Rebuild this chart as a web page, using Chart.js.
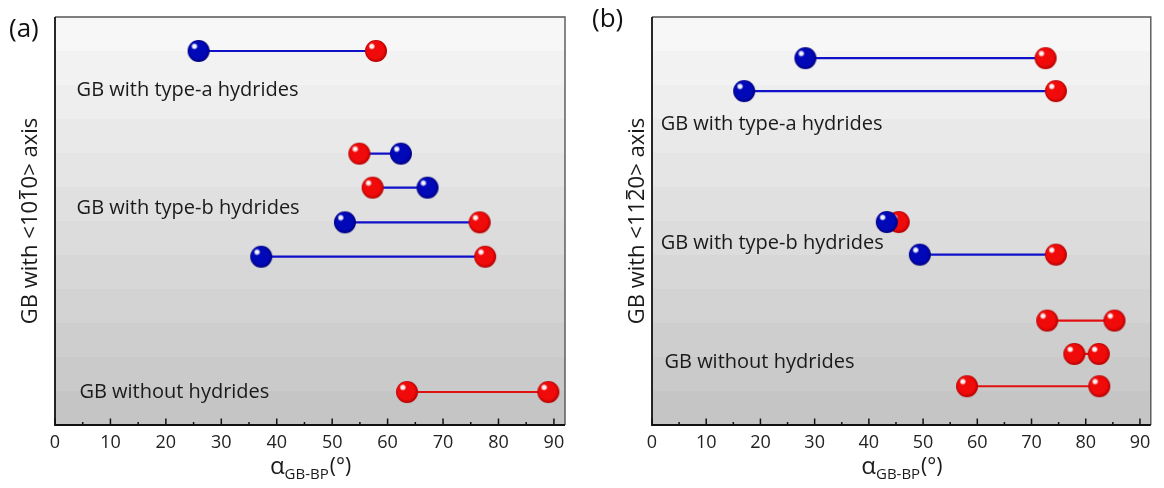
<!DOCTYPE html>
<html>
<head>
<meta charset="utf-8">
<script src="https://cdn.jsdelivr.net/npm/chart.js@4.4.1/dist/chart.umd.min.js"></script>
<style>
  html, body { margin: 0; padding: 0; background: #fff; }
  #wrap { position: relative; width: 1164px; height: 488px; }
  canvas { position: absolute; top: 0; }
  #ca { left: 0; }
  #cb { left: 582px; }
</style>
</head>
<body>
<div id="wrap">
  <canvas id="ca" width="582" height="488"></canvas>
  <canvas id="cb" width="582" height="488"></canvas>
</div>
<script>
// ---- panel (a): GB with <10-10> axis ----
const aRowPos    = [1, 4.02, 5.02, 6.04, 7.05, 11.03];
const aStart     = [25.9, 54.9, 57.3, 52.3, 37.2, 63.5];
const aEnd       = [57.9, 62.4, 67.2, 76.6, 77.6, 89.0];
const aStartKind = ['b', 'r', 'r', 'b', 'b', 'r'];
const aEndKind   = ['r', 'b', 'b', 'r', 'r', 'r'];

// ---- panel (b): GB with <11-20> axis ----
const bRowPos    = [1.21, 2.18, 6.03, 6.99, 8.93, 9.91, 10.86];
const bStart     = [28.3, 17.0, 43.3, 49.4, 72.9, 77.9, 58.1];
const bEnd       = [72.6, 74.5, 45.5, 74.5, 85.3, 82.4, 82.5];
const bStartKind = ['b', 'b', 'b', 'b', 'r', 'r', 'r'];
const bEndKind   = ['r', 'r', 'r', 'r', 'r', 'r', 'r'];

const groupLabels = ['GB with type-a hydrides', 'GB with type-b hydrides', 'GB without hydrides'];
const xTicks = [0, 10, 20, 30, 40, 50, 60, 70, 80, 90];

const FONT = "'Open Sans', 'DejaVu Sans', sans-serif";
const COLORS = { b: '#0000b8', r: '#e80000' };
const LINE = { b: '#1010c8', r: '#e01010' };

// glossy ball used as point style
function makeBall(base, dark, r) {
  const c = document.createElement('canvas');
  c.width = c.height = 2 * r + 2;
  const g = c.getContext('2d');
  const cx = r + 1, cy = r + 1;
  const grd = g.createRadialGradient(cx - r * 0.3, cy - r * 0.35, r * 0.1, cx, cy, r);
  grd.addColorStop(0, base);
  grd.addColorStop(0.75, base);
  grd.addColorStop(1, dark);
  g.fillStyle = grd;
  g.beginPath(); g.arc(cx, cy, r, 0, Math.PI * 2); g.fill();
  const hx = cx - r * 0.38, hy = cy - r * 0.42;
  const hl = g.createRadialGradient(hx, hy, 0, hx, hy, r * 0.32);
  hl.addColorStop(0, 'rgba(255,255,255,1)');
  hl.addColorStop(0.5, 'rgba(255,255,255,0.9)');
  hl.addColorStop(1, 'rgba(255,255,255,0)');
  g.fillStyle = hl;
  g.beginPath(); g.arc(hx, hy, r * 0.32, 0, Math.PI * 2); g.fill();
  return c;
}
const BALL = { b: makeBall('#0008b8', '#00007a', 11), r: makeBall('#f00a0a', '#b00000', 11) };

function buildDatasets(rows, starts, ends, sKind, eKind) {
  return rows.map((y, i) => {
    let pts = [{ x: starts[i], y, k: sKind[i] }, { x: ends[i], y, k: eKind[i] }];
    // red balls first so blue ones sit on top where they overlap
    pts.sort((p, q) => (p.k === 'b') - (q.k === 'b'));
    const lineKind = (sKind[i] === 'b' || eKind[i] === 'b') ? 'b' : 'r';
    return {
      data: pts.map(p => ({ x: p.x, y: p.y })),
      showLine: true,
      borderColor: LINE[lineKind],
      borderWidth: 2.2,
      pointStyle: pts.map(p => BALL[p.k]),
      pointRadius: 11,
      pointHoverRadius: 11,
      backgroundColor: pts.map(p => COLORS[p.k])
    };
  });
}

function drawOverlined(ctx, parts, x, y, olY) {
  // parts: [text, overline?] drawn left-aligned from x
  let cx = x;
  parts.forEach(([t, ol]) => {
    ctx.fillText(t, cx, y);
    const w = ctx.measureText(t).width;
    if (ol) ctx.fillRect(cx + w * 0.15, y - olY, w * 0.7, 1.5);
    cx += w;
  });
}

function panelPlugin(opt) {
  return {
    id: 'panelDecor' + opt.letter,
    beforeDraw(chart) {
      const { ctx, chartArea: a } = chart;
      ctx.save();
      ctx.fillStyle = '#fff';
      ctx.fillRect(0, 0, chart.width, chart.height);
      // banded grey gradient in the plot area
      const bands = 12, h = (a.bottom - a.top) / bands;
      for (let i = 0; i < bands; i++) {
        const v = Math.round(247 - (247 - 197) * i / (bands - 1));
        ctx.fillStyle = `rgb(${v},${v},${v})`;
        ctx.fillRect(a.left, a.top + i * h, a.right - a.left, h + 1);
      }
      ctx.restore();
    },
    afterDraw(chart) {
      const { ctx, chartArea: a, scales } = chart;
      const xs = scales.x, ys = scales.y;
      ctx.save();
      // frame
      ctx.strokeStyle = '#555';
      ctx.lineWidth = 1.4;
      ctx.beginPath();
      ctx.moveTo(a.left, a.top); ctx.lineTo(a.right, a.top); ctx.lineTo(a.right, a.bottom);
      ctx.stroke();
      ctx.strokeStyle = '#111';
      ctx.lineWidth = 1.8;
      ctx.beginPath();
      ctx.moveTo(a.left, a.top); ctx.lineTo(a.left, a.bottom); ctx.lineTo(a.right, a.bottom);
      ctx.stroke();
      // inward ticks
      ctx.lineWidth = 1.5;
      ctx.beginPath();
      for (let v = 0; v <= 90; v += 5) {
        const px = xs.getPixelForValue(v);
        const len = v % 10 === 0 ? 6.5 : 3;
        ctx.moveTo(px, a.bottom); ctx.lineTo(px, a.bottom - len);
      }
      ctx.stroke();

      ctx.fillStyle = '#1a1a1a';
      // group labels inside plot
      ctx.font = `20px ${FONT}`;
      ctx.textAlign = 'left';
      ctx.textBaseline = 'middle';
      opt.labels.forEach((l, i) => {
        ctx.fillText(groupLabels[i], xs.getPixelForValue(l[0]), ys.getPixelForValue(l[1]));
      });

      // x axis title: alpha with subscript
      const cxm = (a.left + a.right) / 2, by = 474;
      ctx.textBaseline = 'alphabetic';
      ctx.font = `24px ${FONT}`;
      const w1 = ctx.measureText('\u03b1').width;
      ctx.font = `21px ${FONT}`;
      const w3 = ctx.measureText('(\u00b0)').width;
      ctx.font = `15px ${FONT}`;
      const w2 = ctx.measureText('GB-BP').width;
      let x0 = cxm - (w1 + w2 + w3) / 2;
      ctx.font = `24px ${FONT}`;
      ctx.fillText('\u03b1', x0, by);
      ctx.font = `15px ${FONT}`;
      ctx.fillText('GB-BP', x0 + w1, by + 5);
      ctx.font = `21px ${FONT}`;
      ctx.fillText('(\u00b0)', x0 + w1 + w2 + 1, by - 1);

      // y axis title, rotated, with overlined index
      ctx.save();
      ctx.translate(opt.yTitleX, (a.top + a.bottom) / 2);
      ctx.rotate(-Math.PI / 2);
      ctx.font = `22px ${FONT}`;
      const full = opt.yTitle.map(p => p[0]).join('');
      const tw = ctx.measureText(full).width;
      ctx.textBaseline = 'alphabetic';
      drawOverlined(ctx, opt.yTitle, -tw / 2, 8, 18);
      ctx.restore();

      // panel letter
      ctx.font = `26px ${FONT}`;
      ctx.textBaseline = 'middle';
      ctx.fillStyle = '#111';
      ctx.fillText(opt.letter, opt.letterPos[0], opt.letterPos[1]);
      ctx.restore();
    }
  };
}

function makeChart(id, datasets, pad, yWidth, opt) {
  return new Chart(document.getElementById(id), {
    type: 'scatter',
    data: { datasets },
    options: {
      responsive: false,
      animation: false,
      layout: { padding: pad },
      plugins: { legend: { display: false }, tooltip: { enabled: false } },
      scales: {
        x: {
          type: 'linear', min: 0, max: 92,
          afterBuildTicks: s => { s.ticks = xTicks.map(v => ({ value: v })); },
          ticks: { font: { family: FONT, size: 18 }, color: '#222', padding: 7, includeBounds: false },
          grid: { display: false, drawTicks: false },
          border: { display: false },
          afterFit: s => { s.height = 63; }
        },
        y: {
          type: 'linear', min: 0, max: 12, reverse: true,
          ticks: { display: false },
          grid: { display: false, drawTicks: false },
          border: { display: false },
          afterFit: s => { s.width = yWidth; }
        }
      }
    },
    plugins: [panelPlugin(opt)]
  });
}

makeChart('ca',
  buildDatasets(aRowPos, aStart, aEnd, aStartKind, aEndKind),
  { top: 17, right: 17, left: 0, bottom: 0 }, 55,
  {
    letter: '(a)', letterPos: [9, 30], yTitleX: 29,
    yTitle: [['GB with <10', false], ['1', true], ['0> axis', false]],
    labels: [[3.9, 2.15], [3.9, 5.62], [4.4, 11.03]]
  });

makeChart('cb',
  buildDatasets(bRowPos, bStart, bEnd, bStartKind, bEndKind),
  { top: 17, right: 5, left: 0, bottom: 0 }, 70,
  {
    letter: '(b)', letterPos: [10, 20], yTitleX: 54,
    yTitle: [['GB with <11', false], ['2', true], ['0> axis', false]],
    labels: [[1.6, 3.15], [1.6, 6.65], [2.3, 10.15]]
  });
</script>
</body>
</html>
